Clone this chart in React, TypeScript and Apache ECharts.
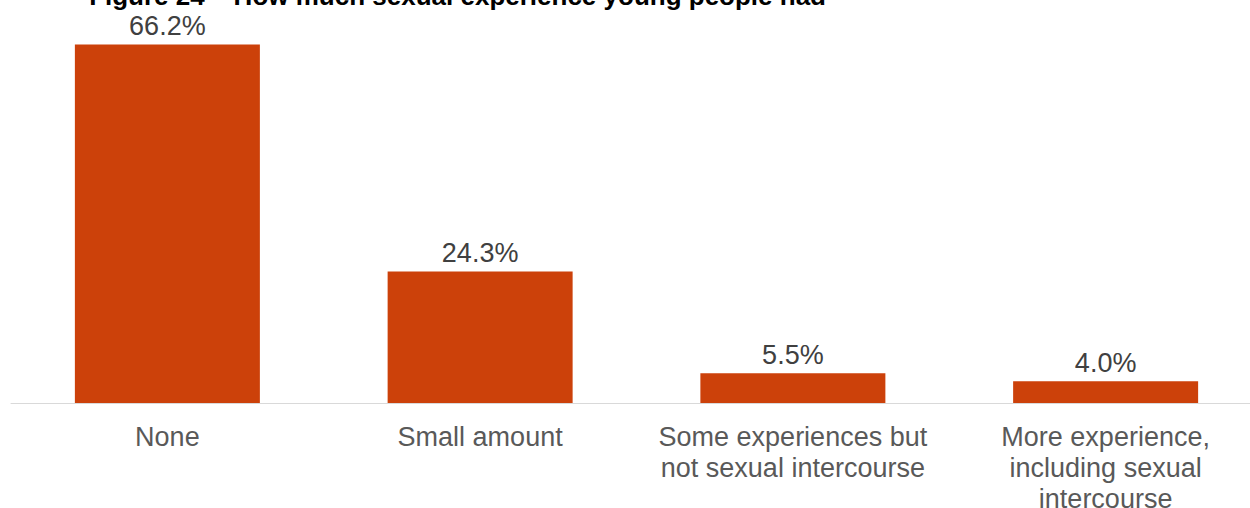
import React, { useEffect, useRef } from "react";
import * as echarts from "echarts";

const titleText = "Figure 24 \u2013 How much sexual experience young people had";
const categories = [
  "None",
  "Small amount",
  "Some experiences but\nnot sexual intercourse",
  "More experience,\nincluding sexual\nintercourse",
];
const values = [66.2, 24.3, 5.5, 4.0];

export default function App() {
  const ref = useRef<HTMLDivElement>(null);
  useEffect(() => {
    if (!ref.current) return;
    const chart = echarts.init(ref.current, null, { renderer: "svg" });
    chart.setOption({
      animation: false,
      backgroundColor: "#ffffff",
      graphic: [
        {
          type: "text",
          right: 436,
          top: -17,
          style: {
            text: titleText,
            font: "bold 26px 'Liberation Sans', Arial, sans-serif",
            fill: "#000000",
          },
        },
      ],
      grid: {
        left: 11,
        right: 0,
        top: 24,
        bottom: 105,
        containLabel: false,
        outerBoundsMode: "none",
      },
      xAxis: {
        type: "category",
        data: categories,
        axisLine: { lineStyle: { color: "#D9D9D9", width: 1 } },
        axisTick: { show: false },
        axisLabel: {
          interval: 0,
          margin: 18,
          color: "#595959",
          fontSize: 27,
          lineHeight: 31,
          fontFamily: "'Liberation Sans', Arial, sans-serif",
        },
      },
      yAxis: {
        type: "value",
        min: 0,
        max: 70,
        show: false,
        splitLine: { show: false },
      },
      series: [
        {
          type: "bar",
          data: values,
          barWidth: 185,
          itemStyle: { color: "#CC410A" },
          label: {
            show: true,
            position: "top",
            distance: 5,
            formatter: (p: any) => p.value.toFixed(1) + "%",
            color: "#404040",
            fontSize: 27,
            fontFamily: "'Liberation Sans', Arial, sans-serif",
          },
        },
      ],
    });
    return () => chart.dispose();
  }, []);
  return (
    <div
      style={{
        position: "fixed",
        left: 0,
        top: 0,
        width: 1250,
        height: 508,
        overflow: "hidden",
        background: "#ffffff",
      }}
    >
      <div ref={ref} style={{ width: 1262, height: 508 }} />
    </div>
  );
}
